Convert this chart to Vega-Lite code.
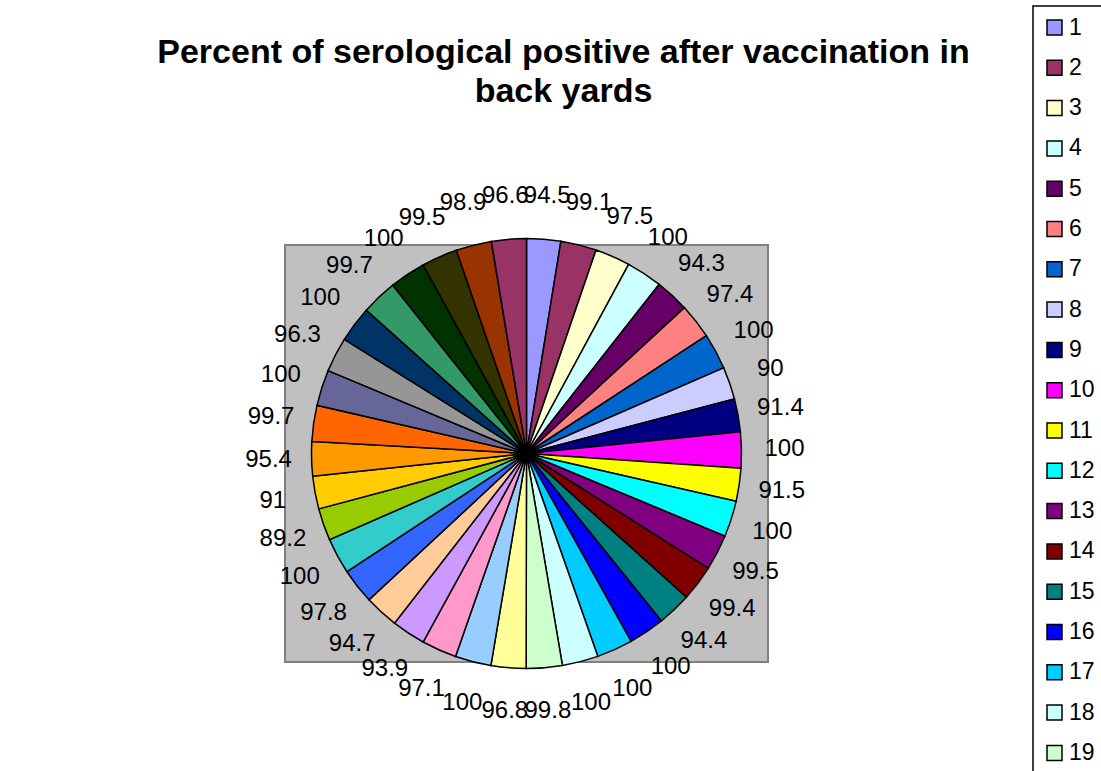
{
  "$schema": "https://vega.github.io/schema/vega-lite/v6.json",
  "autosize": {"type": "none"},
  "width": 483,
  "height": 417,
  "padding": {"left": 285, "top": 245, "right": 333, "bottom": 109},
  "background": "white",
  "title": {
    "text": ["Percent of serological positive after vaccination in", "back yards"],
    "font": "Liberation Sans",
    "fontSize": 34,
    "fontWeight": "bold",
    "color": "black",
    "anchor": "middle",
    "lineHeight": 39,
    "dx": 37,
    "offset": -104
  },
  "config": {
    "view": {"stroke": null}
  },
  "data": {
    "values": [
      {"id": 1, "value": 94.5}, {"id": 2, "value": 99.1}, {"id": 3, "value": 97.5},
      {"id": 4, "value": 100}, {"id": 5, "value": 94.3}, {"id": 6, "value": 97.4},
      {"id": 7, "value": 100}, {"id": 8, "value": 90}, {"id": 9, "value": 91.4},
      {"id": 10, "value": 100}, {"id": 11, "value": 91.5}, {"id": 12, "value": 100},
      {"id": 13, "value": 99.5}, {"id": 14, "value": 99.4}, {"id": 15, "value": 94.4},
      {"id": 16, "value": 100}, {"id": 17, "value": 100}, {"id": 18, "value": 100},
      {"id": 19, "value": 99.8}, {"id": 20, "value": 96.8}, {"id": 21, "value": 100},
      {"id": 22, "value": 97.1}, {"id": 23, "value": 93.9}, {"id": 24, "value": 94.7},
      {"id": 25, "value": 97.8}, {"id": 26, "value": 100}, {"id": 27, "value": 89.2},
      {"id": 28, "value": 91}, {"id": 29, "value": 95.4}, {"id": 30, "value": 99.7},
      {"id": 31, "value": 100}, {"id": 32, "value": 96.3}, {"id": 33, "value": 100},
      {"id": 34, "value": 99.7}, {"id": 35, "value": 100}, {"id": 36, "value": 99.5},
      {"id": 37, "value": 98.9}, {"id": 38, "value": 96.6}
    ]
  },
  "layer": [
    {
      "data": {"values": [{"area": "plot"}]},
      "mark": {"type": "rect", "fill": "#C0C0C0", "stroke": "#808080", "strokeWidth": 2},
      "encoding": {}
    },
    {
      "mark": {"type": "arc", "outerRadius": 215, "stroke": "black", "strokeWidth": 1.5},
      "encoding": {
        "theta": {"field": "value", "type": "quantitative", "stack": true},
        "order": {"field": "id", "type": "quantitative"},
        "color": {
          "field": "id",
          "type": "nominal",
          "scale": {
            "domain": [1,2,3,4,5,6,7,8,9,10,11,12,13,14,15,16,17,18,19,20,21,22,23,24,25,26,27,28,29,30,31,32,33,34,35,36,37,38],
            "range": ["#9999FF","#993366","#FFFFCC","#CCFFFF","#660066","#FF8080","#0066CC","#CCCCFF","#000080","#FF00FF","#FFFF00","#00FFFF","#800080","#800000","#008080","#0000FF","#00CCFF","#CCFFFF","#CCFFCC","#FFFF99","#99CCFF","#FF99CC","#CC99FF","#FFCC99","#3366FF","#33CCCC","#99CC00","#FFCC00","#FF9900","#FF6600","#666699","#969696","#003366","#339966","#003300","#333300","#993300","#993366"]
          },
          "legend": {
            "title": null,
            "orient": "none",
            "legendX": 748,
            "legendY": -239,
            "direction": "vertical",
            "columns": 1,
            "symbolLimit": 40,
            "padding": 10,
            "strokeColor": "black",
            "symbolType": "square",
            "symbolSize": 225,
            "symbolStrokeColor": "black",
            "symbolStrokeWidth": 1.5,
            "symbolOpacity": 1,
            "labelFont": "Liberation Sans",
            "labelFontSize": 23,
            "labelColor": "black",
            "labelOffset": 3,
            "rowPadding": 16.3,
            "encode": {"legend": {"update": {"strokeWidth": {"value": 1.5}}}}
          }
        }
      }
    },
    {
      "mark": {"type": "text", "radius": 258, "font": "Liberation Sans", "fontSize": 24, "color": "black", "align": "center", "baseline": "middle"},
      "encoding": {
        "theta": {"field": "value", "type": "quantitative", "stack": true},
        "order": {"field": "id", "type": "quantitative"},
        "text": {"field": "value", "type": "quantitative"}
      }
    }
  ]
}
